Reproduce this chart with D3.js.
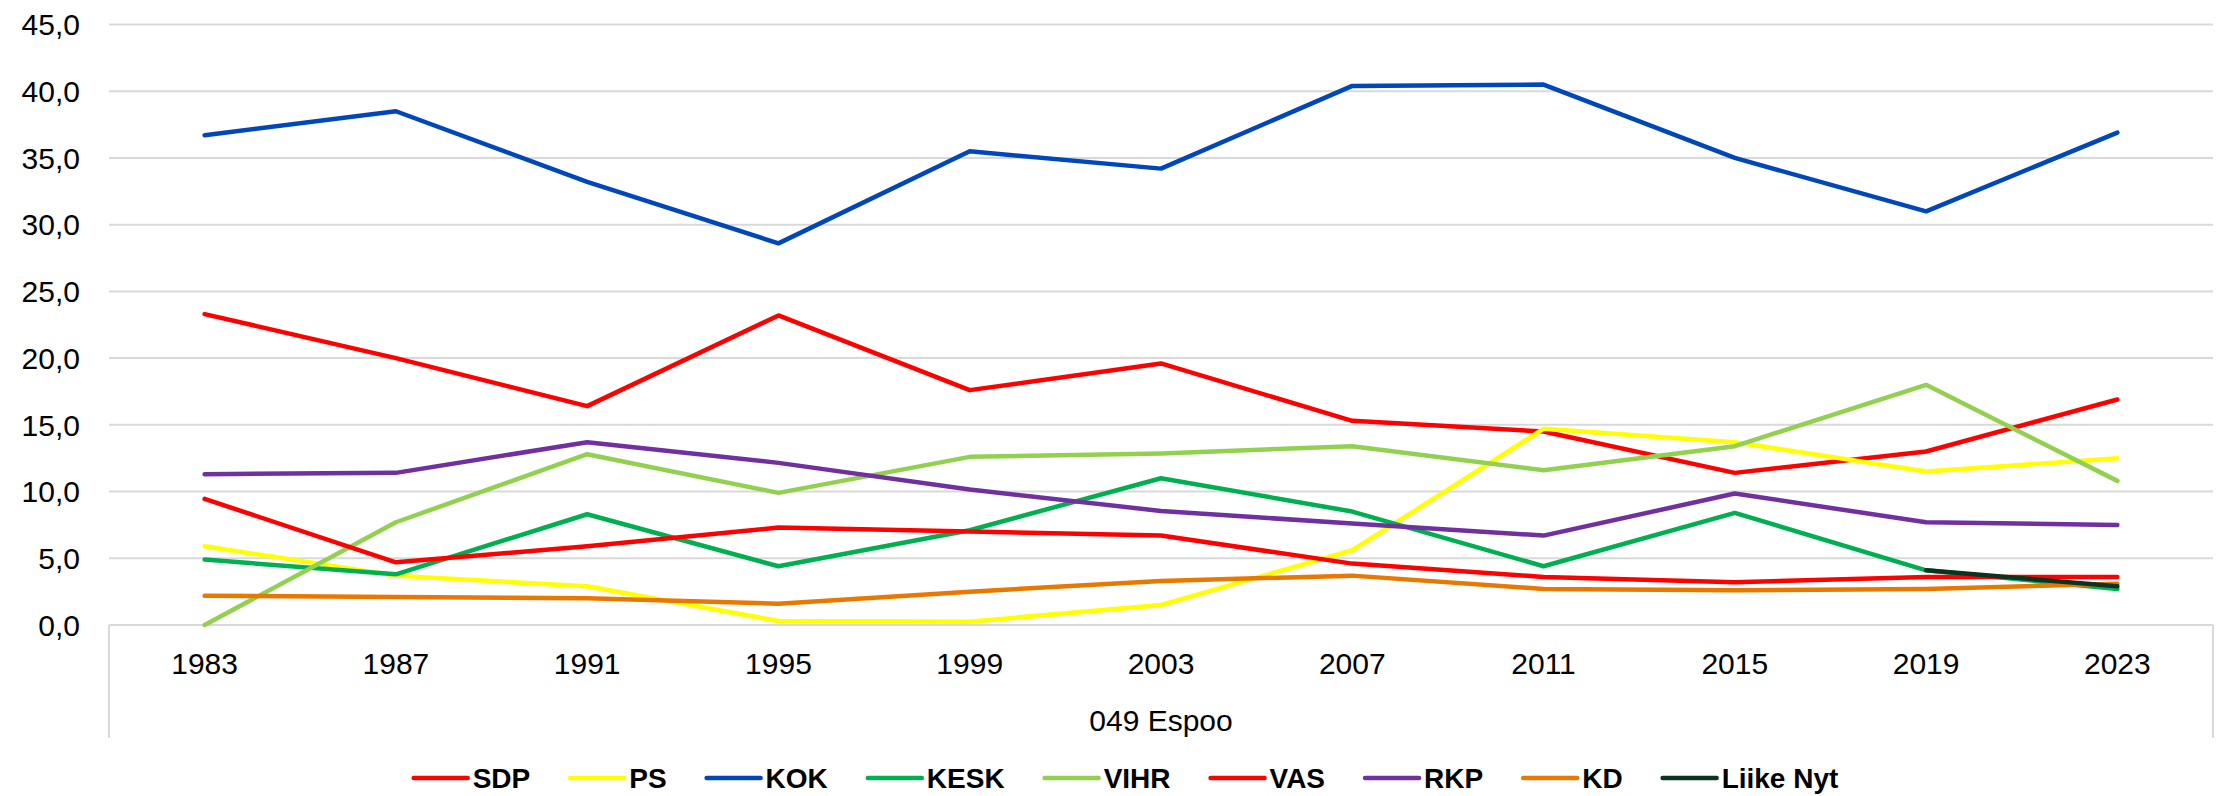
<!DOCTYPE html>
<html>
<head>
<meta charset="utf-8">
<script src="https://cdn.jsdelivr.net/npm/d3@7"></script>
<style>
    body { margin: 0; background: #fff; }
    text { font-family: "Liberation Sans", Arial, sans-serif; }
</style>
</head>
<body>
<svg id="chart" width="2222" height="796"></svg>
<script>
let years = ['1983', '1987', '1991', '1995', '1999', '2003', '2007', '2011', '2015', '2019', '2023']
let yTicks = [0, 5, 10, 15, 20, 25, 30, 35, 40, 45]
let parties = ['SDP', 'PS', 'KOK', 'KESK', 'VIHR', 'VAS', 'RKP', 'KD', 'Liike Nyt']
let colors = ['#ff0000', '#ffff00', '#0047ba', '#00b050', '#92d050', '#ff0000', '#7030a0', '#e97800', '#0b3320']

let SDP = [23.3, 20.0, 16.4, 23.2, 17.6, 19.6, 15.3, 14.5, 11.4, 13.0, 16.9]
let PS = [5.9, 3.7, 2.9, 0.3, 0.25, 1.5, 5.6, 14.7, 13.7, 11.5, 12.5]
let KOK = [36.7, 38.5, 33.2, 28.6, 35.5, 34.2, 40.4, 40.5, 35.0, 31.0, 36.9]
let KESK = [4.9, 3.8, 8.3, 4.4, 7.1, 11.0, 8.5, 4.4, 8.4, 4.1, 2.7]
let VIHR = [0.0, 7.7, 12.8, 9.9, 12.6, 12.85, 13.4, 11.6, 13.4, 18.0, 10.8]
let VAS = [9.45, 4.7, 5.9, 7.3, 7.0, 6.7, 4.6, 3.6, 3.2, 3.6, 3.6]
let RKP = [11.3, 11.4, 13.7, 12.15, 10.15, 8.55, 7.6, 6.7, 9.85, 7.7, 7.5]
let KD = [2.2, 2.1, 2.0, 1.6, 2.5, 3.3, 3.7, 2.7, 2.6, 2.7, 3.1]
let LiikeNyt = [null, null, null, null, null, null, null, null, null, 4.1, 2.9]

let series = [SDP, PS, KOK, KESK, VIHR, VAS, RKP, KD, LiikeNyt]

let svg = d3.select('#chart')
let plotLeft = 109, plotRight = 2213, plotTop = 24.5, plotBottom = 625, axisBottom = 738

let x = d3.scaleBand()
    .domain(years)
    .range([plotLeft, plotRight])
let y = d3.scaleLinear()
    .domain([0, 45])
    .range([plotBottom, plotTop])

// gridlines
svg.append('g')
    .selectAll('line')
    .data(yTicks)
    .join('line')
    .attr('x1', plotLeft)
    .attr('x2', plotRight)
    .attr('y1', d => y(d))
    .attr('y2', d => y(d))
    .attr('stroke', '#d9d9d9')
    .attr('stroke-width', 2)

// box under the axis
svg.append('line')
    .attr('x1', plotLeft).attr('x2', plotLeft)
    .attr('y1', plotBottom).attr('y2', axisBottom)
    .attr('stroke', '#d9d9d9').attr('stroke-width', 2)
svg.append('line')
    .attr('x1', plotRight).attr('x2', plotRight)
    .attr('y1', plotBottom).attr('y2', axisBottom)
    .attr('stroke', '#d9d9d9').attr('stroke-width', 2)

let fmt = d => d.toFixed(1).replace('.', ',')

svg.append('g')
    .selectAll('text')
    .data(yTicks)
    .join('text')
    .attr('x', 80)
    .attr('y', d => y(d))
    .attr('dy', '0.36em')
    .attr('text-anchor', 'end')
    .attr('font-size', 30)
    .attr('fill', '#000')
    .text(fmt)

svg.append('g')
    .selectAll('text')
    .data(years)
    .join('text')
    .attr('x', d => x(d) + x.bandwidth() / 2)
    .attr('y', 674)
    .attr('text-anchor', 'middle')
    .attr('font-size', 30)
    .attr('fill', '#000')
    .text(d => d)

svg.append('text')
    .attr('x', (plotLeft + plotRight) / 2)
    .attr('y', 731)
    .attr('text-anchor', 'middle')
    .attr('font-size', 30)
    .attr('fill', '#000')
    .text('049 Espoo')

let line = d3.line()
    .defined(d => d != null)
    .x((d, i) => x(years[i]) + x.bandwidth() / 2)
    .y(d => y(d))

svg.append('g')
    .selectAll('path')
    .data(series)
    .join('path')
    .attr('d', d => line(d))
    .attr('fill', 'none')
    .attr('stroke', (d, i) => colors[i])
    .attr('stroke-width', 4.5)
    .attr('stroke-linejoin', 'round')
    .attr('stroke-linecap', 'round')

// legend
let legend = svg.append('g')
let lx = 0
parties.forEach((p, i) => {
    let item = legend.append('g').attr('transform', 'translate(' + lx + ',0)')
    item.append('line')
        .attr('x1', 2).attr('x2', 56)
        .attr('y1', 778).attr('y2', 778)
        .attr('stroke', colors[i])
        .attr('stroke-width', 4.5)
        .attr('stroke-linecap', 'round')
    let t = item.append('text')
        .attr('x', 61)
        .attr('y', 788)
        .attr('font-size', 28)
        .attr('font-weight', 'bold')
        .attr('fill', '#000')
        .text(p)
    lx += 61 + t.node().getComputedTextLength() + 38
})
legend.attr('transform', 'translate(' + (1125 - (lx - 38) / 2) + ',0)')
</script>
</body>
</html>
